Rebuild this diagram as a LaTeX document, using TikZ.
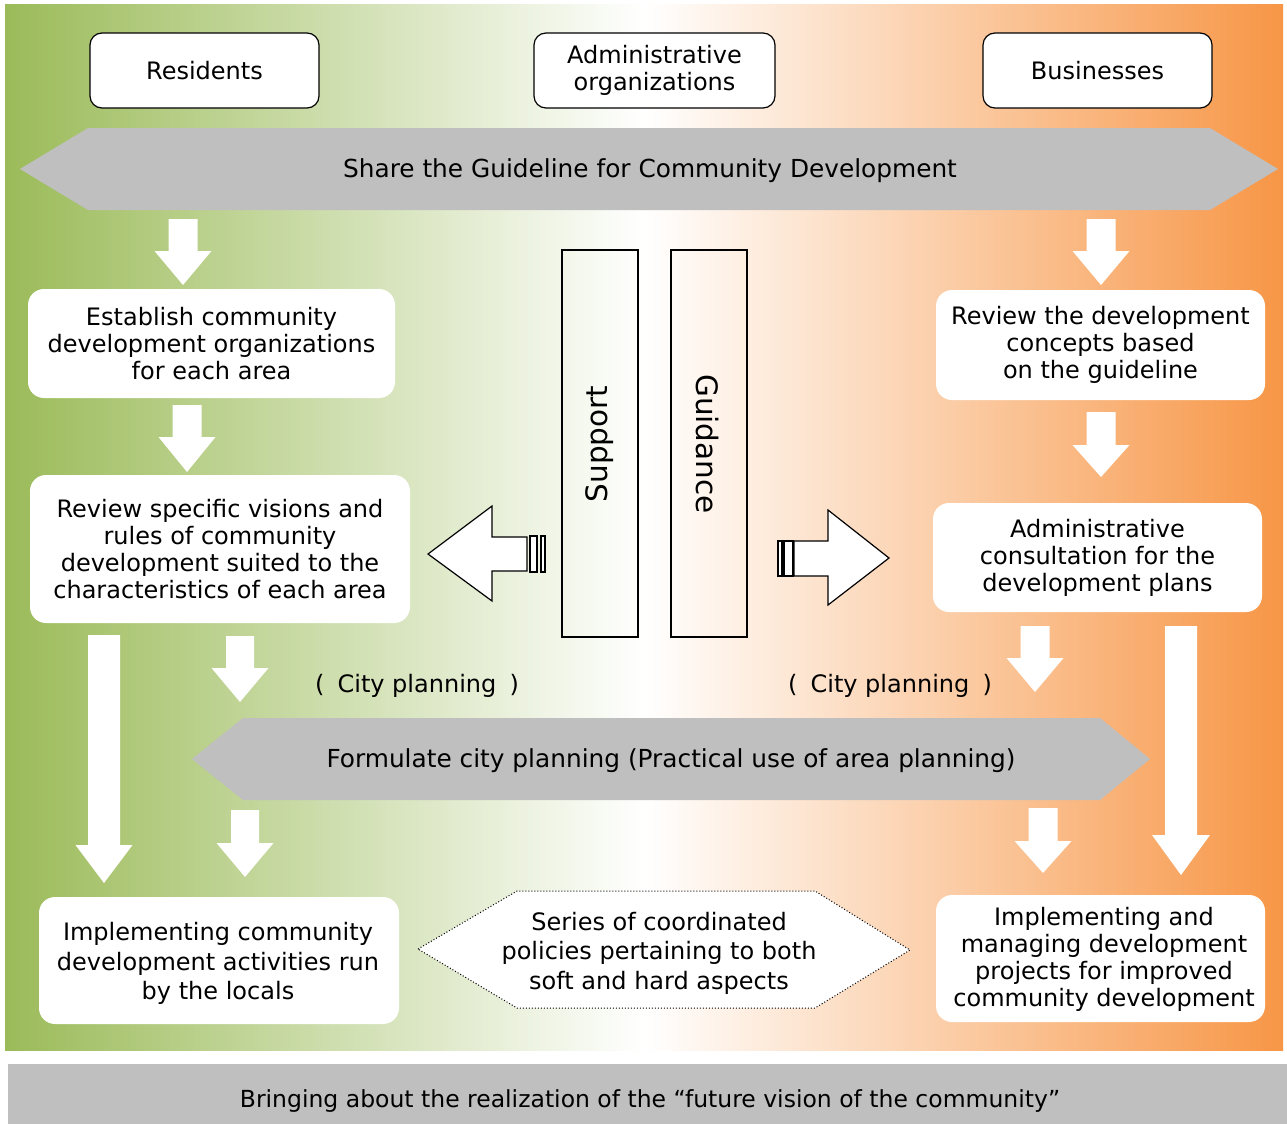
\documentclass[tikz,border=0pt]{standalone}
\usepackage{fontspec}
\setmainfont{DejaVu Sans}
\usetikzlibrary{calc}

\definecolor{leafgreen}{HTML}{9BBB59}
\definecolor{peachorange}{HTML}{F79646}
\definecolor{bannergray}{HTML}{BFBFBF}

% white block arrow pointing down: x, top, neck, tip, shaft half-width, head half-width
\newcommand{\blockdown}[6]{%
  \fill[white] (#1-#5,#2) -- (#1+#5,#2) -- (#1+#5,#3) -- (#1+#6,#3)
    -- (#1,#4) -- (#1-#6,#3) -- (#1-#5,#3) -- cycle;}

\begin{document}
\begin{tikzpicture}[x=1pt,y=-1pt,
  every node/.style={font=\fontsize{24}{27}\selectfont, inner sep=0pt, align=center},
  actorbox/.style={draw, line width=1.2pt, fill=white, rounded corners=12pt},
  stagebox/.style={fill=white, rounded corners=16pt},
  pillar/.style={draw, line width=1.3pt},
  outlinearrow/.style={draw, line width=1.2pt, fill=white, line join=miter},
  banner/.style={fill=bannergray},
  bannertext/.style={font=\fontsize{24.8}{28}\selectfont}
]
\useasboundingbox (0,0) rectangle (1287,1124);
\fill[white] (0,0) rectangle (1287,1124);

% background gradient: green through white to orange
\shade[left color=leafgreen, right color=peachorange, middle color=white]
  (5,5) rectangle (1283,1050);

% actors
\node[actorbox, minimum width=229pt, minimum height=75pt] (residents) at (204.5,70.5) {Residents};
\node[actorbox, minimum width=241pt, minimum height=75pt] (admin) at (654.5,70.5) {Administrative\\organizations};
\node[actorbox, minimum width=229pt, minimum height=75pt] (business) at (1097.5,70.5) {Businesses};

% shared guideline banner
\fill[banner] (20,169) -- (88,128) -- (1210,128) -- (1278,169) -- (1210,210) -- (88,210) -- cycle;
\node[bannertext] (share) at (650,171) {Share the Guideline for Community Development};

% left column
\blockdown{183}{219}{251}{285}{14.5}{28.5}
\node[stagebox, minimum width=367pt, minimum height=109pt] (establish) at (211.5,343.5)
  {Establish community\\development organizations\\for each area};
\blockdown{187}{405}{437}{472}{14.5}{28.5}
\node[stagebox, minimum width=380pt, minimum height=148pt] (visions) at (220,549)
  {Review specific visions and\\rules of community\\development suited to the\\characteristics of each area};

% right column
\blockdown{1101}{219}{251}{285}{14.5}{28.5}
\node[stagebox, minimum width=329pt, minimum height=110pt] (concepts) at (1100.5,345)
  {Review the development\\concepts based\\on the guideline};
\blockdown{1101}{412}{445}{477}{14.5}{28.5}
\node[stagebox, minimum width=329pt, minimum height=109pt] (consult) at (1097.5,557.5)
  {Administrative\\consultation for the\\development plans};

% support and guidance pillars
\draw[pillar] (562,250) rectangle (638,637);
\draw[pillar] (671,250) rectangle (747,637);
\node[rotate=90, font=\fontsize{29.5}{32}\selectfont] (support) at (600,444) {Support};
\node[rotate=-90, font=\fontsize{29.5}{32}\selectfont] (guidance) at (707,444) {Guidance};

% outline arrows leaving the pillars
\draw[outlinearrow] (428,554) -- (492,506) -- (492,537) -- (527,537) -- (527,571)
  -- (492,571) -- (492,601) -- cycle;
\draw[outlinearrow] (530,536) rectangle (537,572);
\draw[outlinearrow] (541,536) rectangle (545,572);
\draw[outlinearrow] (889,558) -- (828,510) -- (828,541) -- (794,541) -- (794,576)
  -- (828,576) -- (828,605) -- cycle;
\draw[outlinearrow] (778,541) rectangle (782,576);
\draw[outlinearrow] (784,541) rectangle (793,576);

% arrows into and out of city planning
\blockdown{104}{635}{845}{883}{16}{28.5}
\blockdown{240}{636}{668}{702}{14}{28.5}
\blockdown{245}{810}{843}{877}{14}{28.5}
\blockdown{1035}{626}{658}{692}{14.5}{28.5}
\blockdown{1043}{808}{841}{873}{14.5}{28.5}
\blockdown{1181}{626}{835}{875}{16}{29}

\node (citypl1) at (417,686) {(\hspace{0.55em}City planning\hspace{0.55em})};
\node (citypl2) at (890,686) {(\hspace{0.55em}City planning\hspace{0.55em})};

% city planning banner
\fill[banner] (192,759) -- (243,718) -- (1100,718) -- (1150,759) -- (1100,800) -- (243,800) -- cycle;
\node[bannertext] (formulate) at (671,761) {Formulate city planning (Practical use of area planning)};

% outcomes
\node[stagebox, minimum width=360pt, minimum height=127pt] (localact) at (219,960.5) {};
\node[font=\fontsize{24}{29.5}\selectfont] (localtext) at (218,963.5)
  {Implementing community\\development activities run\\by the locals};
\draw[dotted, line width=1pt, fill=white] (418,949) -- (517,891) -- (815,891) -- (910,950)
  -- (815,1008) -- (517,1008) -- cycle;
\node[font=\fontsize{24}{29.5}\selectfont] (series) at (659,953)
  {Series of coordinated\\policies pertaining to both\\soft and hard aspects};
\node[stagebox, minimum width=329pt, minimum height=127pt] (projects) at (1100.5,958.5) {};
\node (projtext) at (1104,959)
  {Implementing and\\managing development\\projects for improved\\community development};

% final goal bar
\fill[banner] (8,1064) rectangle (1287,1124);
\node[font=\fontsize{23.5}{27}\selectfont] (vision) at (650,1101) {Bringing about the realization of the “future vision of the community”};
\end{tikzpicture}
\end{document}
